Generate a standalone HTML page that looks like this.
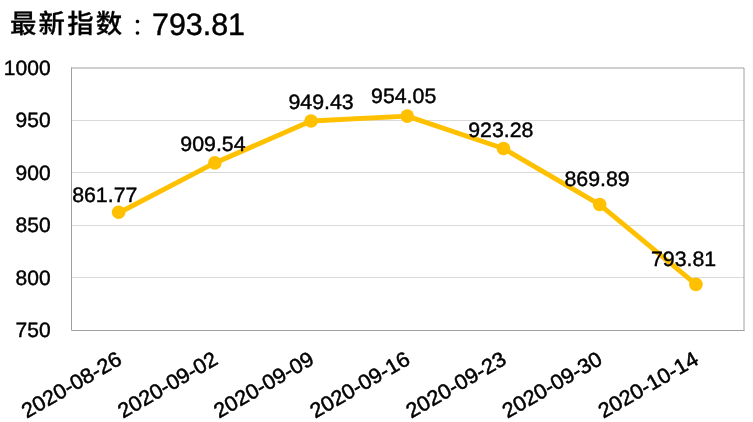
<!DOCTYPE html>
<html lang="zh-CN">
<head>
<meta charset="utf-8">
<title>最新指数：793.81</title>
<style>
html,body{margin:0;padding:0;background:#fff;}
body{width:753px;height:422px;overflow:hidden;position:relative;font-family:"Liberation Sans","Noto Sans CJK SC",sans-serif;}
svg{display:block;position:absolute;left:0;top:0;}
text{font-family:"Liberation Sans","Noto Sans CJK SC",sans-serif;fill:#000;text-rendering:geometricPrecision;}
.t{font-size:28px;font-weight:500;}
.tc{font-family:"Noto Sans CJK SC","Liberation Sans",sans-serif;font-size:28px;font-weight:500;}
.a{font-size:20.8px;stroke:#000;stroke-width:0.42px;}
</style>
</head>
<body>
<svg width="753" height="422" viewBox="0 0 753 422" role="img" aria-label="最新指数：793.81">
<rect x="0" y="0" width="753" height="422" fill="#fff"/>
<line x1="72" y1="120.5" x2="744" y2="120.5" stroke="#d9d9d9" stroke-width="1"/>
<line x1="72" y1="172.5" x2="744" y2="172.5" stroke="#d9d9d9" stroke-width="1"/>
<line x1="72" y1="225.5" x2="744" y2="225.5" stroke="#d9d9d9" stroke-width="1"/>
<line x1="72" y1="277.5" x2="744" y2="277.5" stroke="#d9d9d9" stroke-width="1"/>
<path d="M71 68 H744 V331" fill="none" stroke="#a0a0a0" stroke-width="1"/>
<path d="M71.5 67.5 V330.5 H744.5" fill="none" stroke="#a0a0a0" stroke-width="1"/>
<polyline points="118.60,213.04 214.82,162.88 311.04,121.00 407.26,116.15 503.48,148.46 599.70,204.52 695.92,284.40" fill="none" stroke="#ffc000" stroke-width="4.9" stroke-linejoin="round" stroke-linecap="round"/>
<circle cx="118.60" cy="212.25" r="6.8" fill="#ffc000"/>
<circle cx="214.82" cy="162.88" r="6.8" fill="#ffc000"/>
<circle cx="311.04" cy="121.00" r="6.8" fill="#ffc000"/>
<circle cx="407.26" cy="116.15" r="6.8" fill="#ffc000"/>
<circle cx="503.48" cy="148.46" r="6.8" fill="#ffc000"/>
<circle cx="599.70" cy="204.52" r="6.8" fill="#ffc000"/>
<circle cx="695.92" cy="284.40" r="6.8" fill="#ffc000"/>
<text class="tc" x="10.05" y="33.1" style="font-size:26.4px;letter-spacing:2.15px;font-weight:500;stroke:#000;stroke-width:0.3px">最新指数</text>
<text class="tc" x="137.6" y="36.2" text-anchor="middle" style="font-family:'Noto Sans CJK TC','Noto Sans CJK JP','Liberation Sans',sans-serif;font-size:23.5px;font-weight:400">：</text>
<text class="t" transform="translate(152.0,34.7) scale(0.981,1)" style="font-size:31px;stroke:#000;stroke-width:0.45px">793.81</text>
<text class="a" transform="translate(50.6,337.15) scale(1.01,1)" text-anchor="end">750</text>
<text class="a" transform="translate(50.6,284.65) scale(1.01,1)" text-anchor="end">800</text>
<text class="a" transform="translate(50.6,232.15) scale(1.01,1)" text-anchor="end">850</text>
<text class="a" transform="translate(50.6,179.65) scale(1.01,1)" text-anchor="end">900</text>
<text class="a" transform="translate(50.6,127.15) scale(1.01,1)" text-anchor="end">950</text>
<text class="a" transform="translate(50.6,74.65) scale(1.01,1)" text-anchor="end">1000</text>
<text class="a" transform="translate(104.75,201.50) scale(1.025,1)" text-anchor="middle">861.77</text>
<text class="a" transform="translate(212.95,151.40) scale(1.025,1)" text-anchor="middle">909.54</text>
<text class="a" transform="translate(321.1,108.90) scale(1.025,1)" text-anchor="middle">949.43</text>
<text class="a" transform="translate(403.65,102.70) scale(1.025,1)" text-anchor="middle">954.05</text>
<text class="a" transform="translate(500.8,137.30) scale(1.025,1)" text-anchor="middle">923.28</text>
<text class="a" transform="translate(597.05,186.40) scale(1.025,1)" text-anchor="middle">869.89</text>
<text class="a" transform="translate(683.6,266.00) scale(1.025,1)" text-anchor="middle">793.81</text>
<text class="a" style="font-size:21px;stroke-width:0.5px" transform="translate(123.20,363.20) rotate(-30) scale(1.036,1)" text-anchor="end">2020-08-26</text>
<text class="a" style="font-size:21px;stroke-width:0.5px" transform="translate(219.32,363.20) rotate(-30) scale(1.036,1)" text-anchor="end">2020-09-02</text>
<text class="a" style="font-size:21px;stroke-width:0.5px" transform="translate(315.44,363.20) rotate(-30) scale(1.036,1)" text-anchor="end">2020-09-09</text>
<text class="a" style="font-size:21px;stroke-width:0.5px" transform="translate(411.56,363.20) rotate(-30) scale(1.036,1)" text-anchor="end">2020-09-16</text>
<text class="a" style="font-size:21px;stroke-width:0.5px" transform="translate(507.68,363.20) rotate(-30) scale(1.036,1)" text-anchor="end">2020-09-23</text>
<text class="a" style="font-size:21px;stroke-width:0.5px" transform="translate(603.80,363.20) rotate(-30) scale(1.036,1)" text-anchor="end">2020-09-30</text>
<text class="a" style="font-size:21px;stroke-width:0.5px" transform="translate(699.92,363.20) rotate(-30) scale(1.036,1)" text-anchor="end">2020-10-14</text>
</svg>
</body>
</html>
